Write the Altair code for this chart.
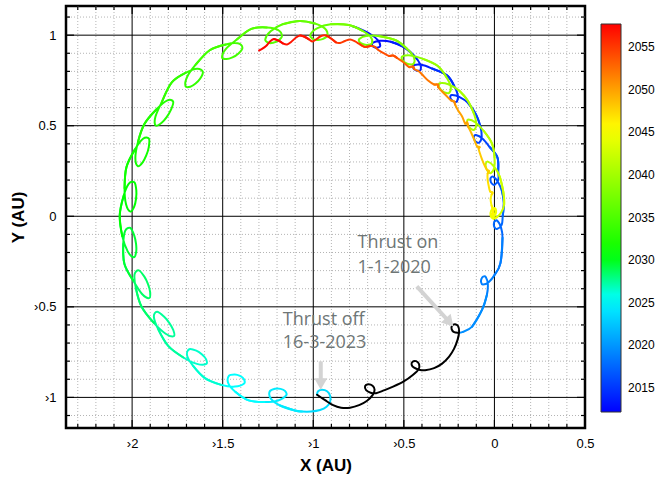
import altair as alt
import pandas as pd

# ---------------------------------------------------------------------------
# Trajectory in the rotating frame (AU).  Each inner list is one yearly loop,
# coloured by the matching entry of the *_years list.
# ---------------------------------------------------------------------------
blue_arcs = [
    [(-0.7802, 1.0481), (-0.7496, 1.0375), (-0.6858, 1.0065), (-0.6435, 0.9731), (-0.6302, 0.9409),
     (-0.6451, 0.9312), (-0.6615, 0.9333), (-0.6741, 0.9422), (-0.6725, 0.9569), (-0.6321, 0.9688),
     (-0.5721, 0.9635)],
    [(-0.4977, 0.9326), (-0.4438, 0.8863), (-0.4114, 0.8432), (-0.4068, 0.8088), (-0.4236, 0.8032),
     (-0.4390, 0.8093), (-0.4489, 0.8212), (-0.4437, 0.8351), (-0.4015, 0.8361), (-0.3448, 0.8157)],
    [(-0.2620, 0.7778), (-0.2221, 0.7191), (-0.2021, 0.6690), (-0.2066, 0.6345), (-0.2243, 0.6335),
     (-0.2375, 0.6435), (-0.2440, 0.6575), (-0.2353, 0.6695), (-0.1943, 0.6596), (-0.1449, 0.6252)],
    [(-0.1006, 0.5597), (-0.0769, 0.4927), (-0.0702, 0.4392), (-0.0833, 0.4070), (-0.1007, 0.4106),
     (-0.1110, 0.4236), (-0.1137, 0.4387), (-0.1023, 0.4482), (-0.0651, 0.4282), (-0.0261, 0.3823)],
    [(0.0164, 0.3255), (0.0211, 0.2545), (0.0216, 0.2019), (0.0009, 0.1738), (-0.0150, 0.1815),
     (-0.0218, 0.1967), (-0.0207, 0.2120), (-0.0074, 0.2184), (0.0198, 0.1895), (0.0425, 0.1350)],
    [(0.0520, 0.0730), (0.0460, 0.0030), (0.0402, -0.0476), (0.0136, -0.0700), (-0.0002, -0.0587),
     (-0.0032, -0.0424), (0.0016, -0.0277), (0.0161, -0.0248), (0.0355, -0.0598), (0.0446, -0.1186)],
    [(0.0333, -0.2586), (0.0019, -0.3222), (-0.0319, -0.3642), (-0.0642, -0.3772), (-0.0737, -0.3623),
     (-0.0716, -0.3458), (-0.0625, -0.3334), (-0.0478, -0.3350), (-0.0363, -0.3756), (-0.0421, -0.4356)],
    [(-0.0680, -0.5155), (-0.1231, -0.6094), (-0.1784, -0.6398), (-0.1977, -0.6425)],
]
blue_years = [2012.8, 2013.75, 2014.75, 2015.75, 2016.7, 2017.6, 2018.8, 2019.6]

# Thrust phase, 1-1-2020 to 16-3-2023 (drawn in black)
thrust_x = [-0.1977, -0.2225, -0.2363, -0.2336, -0.2170, -0.2004, -0.1949, -0.2032, -0.2225, -0.2501,
            -0.2888, -0.3330, -0.3827, -0.4158, -0.4434, -0.4572, -0.4517, -0.4324, -0.4158, -0.4186,
            -0.4489, -0.4986, -0.5594, -0.6146, -0.6532, -0.6836, -0.7084, -0.7140, -0.6974, -0.6726,
            -0.6615, -0.6726, -0.7029, -0.7471, -0.7968, -0.8465, -0.8907, -0.9349, -0.9790]
thrust_y = [-0.6425, -0.6398, -0.6232, -0.6039, -0.5956, -0.6066, -0.6370, -0.6812, -0.7309, -0.7751,
            -0.8138, -0.8387, -0.8497, -0.8470, -0.8359, -0.8193, -0.8028, -0.8000, -0.8166, -0.8442,
            -0.8746, -0.9105, -0.9409, -0.9630, -0.9768, -0.9740, -0.9602, -0.9381, -0.9271, -0.9354,
            -0.9575, -0.9878, -1.0182, -1.0431, -1.0569, -1.0569, -1.0431, -1.0155, -0.9851]

# Coast after thrust-off, round the far side and back in towards the Earth
coast_arcs = [
    [(-0.9790, -0.9851), (-0.9735, -0.9657), (-0.9514, -0.9575), (-0.9238, -0.9657), (-0.9072, -0.9906),
     (-0.9072, -1.0238), (-0.9266, -1.0514), (-0.9625, -1.0696), (-1.0121, -1.0779), (-1.0618, -1.0779)],
    [(-1.1018, -1.0724), (-1.1834, -1.0447), (-1.2336, -1.0081), (-1.2405, -0.9675), (-1.2104, -0.9521),
     (-1.1807, -0.9530), (-1.1565, -0.9641), (-1.1488, -0.9878), (-1.1937, -1.0169), (-1.2697, -1.0255)],
    [(-1.3565, -1.0165), (-1.4290, -0.9700), (-1.4689, -0.9224), (-1.4659, -0.8814), (-1.4330, -0.8737),
     (-1.4044, -0.8817), (-1.3835, -0.8982), (-1.3817, -0.9232), (-1.4323, -0.9405), (-1.5082, -0.9307)],
    [(-1.5984, -0.8933), (-1.6643, -0.8252), (-1.6967, -0.7680), (-1.6842, -0.7342), (-1.6457, -0.7421),
     (-1.6139, -0.7629), (-1.5922, -0.7883), (-1.5906, -0.8153), (-1.6423, -0.8151), (-1.7169, -0.7797)],
    [(-1.7996, -0.7173), (-1.8555, -0.6243), (-1.8800, -0.5551), (-1.8627, -0.5277), (-1.8245, -0.5537),
     (-1.7942, -0.5896), (-1.7728, -0.6281), (-1.7694, -0.6619), (-1.8150, -0.6485), (-1.8801, -0.5889)],
    [(-1.9485, -0.4981), (-1.9798, -0.3941), (-1.9866, -0.3212), (-1.9631, -0.2988), (-1.9324, -0.3333),
     (-1.9118, -0.3757), (-1.9006, -0.4181), (-1.9056, -0.4518), (-1.9466, -0.4277), (-1.9949, -0.3538)],
    [(-2.0428, -0.2617), (-2.0489, -0.1533), (-2.0384, -0.0807), (-2.0102, -0.0645), (-1.9886, -0.1053),
     (-1.9785, -0.1513), (-1.9775, -0.1952), (-1.9903, -0.2268), (-2.0245, -0.1937), (-2.0542, -0.1105)],
    [(-2.0683, 0.0050), (-2.0472, 0.1115), (-2.0189, 0.1791), (-1.9877, 0.1879), (-1.9768, 0.1430),
     (-1.9785, 0.0960), (-1.9885, 0.0531), (-2.0087, 0.0258), (-2.0336, 0.0663), (-2.0417, 0.1542)],
    [(-2.0311, 0.2716), (-1.9840, 0.3694), (-1.9397, 0.4277), (-1.9073, 0.4284), (-1.9080, 0.3822),
     (-1.9214, 0.3371), (-1.9418, 0.2982), (-1.9682, 0.2767), (-1.9821, 0.3222), (-1.9679, 0.4093)],
    [(-1.9315, 0.5107), (-1.8621, 0.5941), (-1.8051, 0.6401), (-1.7734, 0.6329), (-1.7853, 0.5883),
     (-1.8092, 0.5477), (-1.8384, 0.5149), (-1.8693, 0.5004), (-1.8718, 0.5479), (-1.8369, 0.6290)],
    [(-1.7810, 0.7390), (-1.7028, 0.7927), (-1.6410, 0.8149), (-1.6097, 0.7970), (-1.6240, 0.7603),
     (-1.6498, 0.7326), (-1.6786, 0.7153), (-1.7053, 0.7183), (-1.6965, 0.7692), (-1.6491, 0.8369)],
    [(-1.5716, 0.9166), (-1.4824, 0.9489), (-1.4169, 0.9548), (-1.3912, 0.9297), (-1.4142, 0.8977),
     (-1.4462, 0.8773), (-1.4783, 0.8680), (-1.5035, 0.8775), (-1.4821, 0.9246), (-1.4192, 0.9782)],
    [(-1.3420, 1.0350), (-1.2562, 1.0426), (-1.1955, 1.0293), (-1.1729, 0.9950), (-1.1942, 0.9688),
     (-1.2217, 0.9577), (-1.2483, 0.9580), (-1.2650, 0.9766), (-1.2355, 1.0213), (-1.1695, 1.0599)],
    [(-1.0763, 1.0784), (-0.9913, 1.0646), (-0.9358, 1.0367), (-0.9223, 0.9979), (-0.9494, 0.9777),
     (-0.9789, 0.9738), (-1.0045, 0.9806), (-1.0161, 1.0028), (-0.9766, 1.0388), (-0.9031, 1.0599)],
    [(-0.8040, 1.0562), (-0.7303, 1.0252), (-0.6836, 0.9902), (-0.6757, 0.9564), (-0.6991, 0.9464),
     (-0.7231, 0.9494), (-0.7424, 0.9601), (-0.7463, 0.9788), (-0.7026, 0.9963), (-0.6335, 0.9945)],
    [(-0.5447, 0.9719), (-0.4811, 0.9233), (-0.4447, 0.8776), (-0.4457, 0.8429), (-0.4708, 0.8392),
     (-0.4932, 0.8482), (-0.5092, 0.8634), (-0.5083, 0.8823), (-0.4616, 0.8882), (-0.3952, 0.8692)],
    [(-0.3144, 0.8308), (-0.2649, 0.7681), (-0.2410, 0.7147), (-0.2505, 0.6813), (-0.2758, 0.6840),
     (-0.2953, 0.6983), (-0.3070, 0.7170), (-0.3014, 0.7351), (-0.2547, 0.7292), (-0.1951, 0.6943)],
    [(-0.1459, 0.6366), (-0.1130, 0.5663), (-0.1002, 0.5101), (-0.1110, 0.4774), (-0.1310, 0.4838),
     (-0.1448, 0.5002), (-0.1511, 0.5193), (-0.1431, 0.5341), (-0.1045, 0.5178), (-0.0597, 0.4722)],
    [(-0.0133, 0.4017), (0.0008, 0.3253), (-0.0010, 0.2677), (-0.0195, 0.2387), (-0.0373, 0.2500),
     (-0.0465, 0.2692), (-0.0479, 0.2894), (-0.0364, 0.3017), (-0.0033, 0.2762), (0.0288, 0.2208)],
    [(0.0497, 0.1309), (0.0536, 0.0646), (0.0370, 0.0204), (0.0149, -0.0044)],
    [(-0.0072, -0.0127), (-0.0210, 0.0039), (-0.0182, 0.0315), (-0.0017, 0.0453), (0.0094, 0.0315),
     (0.0039, 0.0066), (-0.0127, -0.0017), (-0.0210, 0.0204), (-0.0099, 0.0398), (0.0039, 0.0343),
     (0.0011, 0.0122), (-0.0127, 0.0094)],
]
coast_years = [2023.6, 2024.5, 2025.5, 2026.5, 2027.5, 2028.5, 2029.5, 2030.5, 2031.5, 2032.5,
               2033.5, 2034.5, 2035.5, 2036.5, 2037.5, 2038.5, 2039.5, 2040.5, 2041.5, 2042.6, 2044.6]

# Return leg on the inner side, 2046-2058
return_arcs = [
    [(-0.0072, 0.0260), (-0.0155, 0.0591), (-0.0210, 0.0923), (-0.0155, 0.1199)],
    [(-0.0099, 0.1309), (-0.0237, 0.1365), (-0.0320, 0.1696), (-0.0375, 0.2028), (-0.0375, 0.2359)],
    [(-0.0293, 0.2497), (-0.0403, 0.2552), (-0.0514, 0.2746), (-0.0679, 0.3133), (-0.0817, 0.3519),
     (-0.0872, 0.3740)],
    [(-0.0817, 0.3823), (-0.0955, 0.3851), (-0.1121, 0.4238), (-0.1287, 0.4624), (-0.1452, 0.4956)],
    [(-0.1507, 0.5177), (-0.1618, 0.5122), (-0.1784, 0.5508), (-0.2004, 0.5840), (-0.2170, 0.6171)],
    [(-0.2225, 0.6337), (-0.2391, 0.6392), (-0.2667, 0.6669), (-0.2943, 0.6945), (-0.3109, 0.7138)],
    [(-0.3109, 0.7276), (-0.3330, 0.7276), (-0.3661, 0.7497), (-0.3937, 0.7773), (-0.4158, 0.7994),
     (-0.4434, 0.8133)],
    [(-0.4489, 0.8271), (-0.4710, 0.8243), (-0.5041, 0.8519), (-0.5373, 0.8740)],
    [(-0.5594, 0.8878), (-0.5815, 0.8851), (-0.6091, 0.8989), (-0.6367, 0.9155), (-0.6643, 0.9376),
     (-0.6864, 0.9403)],
    [(-0.7140, 0.9348), (-0.7416, 0.9486), (-0.7692, 0.9652), (-0.7968, 0.9762), (-0.8244, 0.9680),
     (-0.8520, 0.9569), (-0.8741, 0.9597)],
    [(-0.9017, 0.9818), (-0.9293, 0.9983), (-0.9570, 0.9956), (-0.9846, 0.9762), (-1.0039, 0.9652),
     (-1.0232, 0.9762)],
    [(-1.0508, 0.9928), (-1.0729, 0.9983), (-1.0950, 0.9873), (-1.1226, 0.9624), (-1.1447, 0.9486),
     (-1.1668, 0.9541)],
    [(-1.1889, 0.9680), (-1.2165, 0.9790), (-1.2386, 0.9652), (-1.2606, 0.9403), (-1.2827, 0.9238),
     (-1.2993, 0.9155)],
]
return_years = [2046.0, 2047.0, 2048.0, 2049.0, 2050.0, 2051.0, 2052.0, 2053.0, 2054.0, 2055.0,
                2056.0, 2056.8, 2057.5]

# Axis furniture
x_major = [-2, -1.5, -1, -0.5, 0]
y_major = [-1, -0.5, 0, 0.5, 1]
x_minor = [-2.3, -2.2, -2.1, -1.9, -1.8, -1.7, -1.6, -1.4, -1.3, -1.2, -1.1, -0.9, -0.8, -0.7, -0.6,
           -0.4, -0.3, -0.2, -0.1, 0.1, 0.2, 0.3, 0.4]
y_minor = [-1.1, -0.9, -0.8, -0.7, -0.6, -0.4, -0.3, -0.2, -0.1, 0.1, 0.2, 0.3, 0.4, 0.6, 0.7, 0.8,
           0.9, 1.1]
x_labels = [-2, -1.5, -1, -0.5, 0, 0.5]
y_labels = [-1, -0.5, 0, 0.5, 1]
bar_labels = [2015, 2020, 2025, 2030, 2035, 2040, 2045, 2050, 2055]

# Colour map for the date
year_stops = [2012.2, 2025.5, 2030.5, 2045.5, 2057.7]
year_colors = ["#0000ff", "#00ffff", "#00ff00", "#ffff00", "#ff0000"]

# Annotations
note_x = [-0.756, -0.756, -1.1684, -1.1684]
note_y = [-0.1746, -0.3127, -0.5983, -0.7270]
note_text = ["Thrust on", "1-1-2020", "Thrust off", "16-3-2023"]
arrow_x = [-0.4285, -0.9586]
arrow_y = [-0.3867, -0.8011]
arrow_x2 = [-0.2623, -0.9586]
arrow_y2 = [-0.5685, -0.9039]
head_x = [-0.2474, -0.9586]
head_y = [-0.5851, -0.9260]
head_angle = [137.6, 180]


def arcs_to_rows(name, arcs, years):
    """One line per loop; neighbouring points are repeated so the joins stay smooth."""
    rows = []
    for k, (arc, yr) in enumerate(zip(arcs, years)):
        pts = []
        if k > 0:
            pts.append(arcs[k - 1][-1])
        pts += list(arc)
        if k + 1 < len(arcs):
            pts += list(arcs[k + 1][:2])
        for i, (x, y) in enumerate(pts):
            rows.append({"x": x, "y": y, "seg": f"{name}{k:02d}", "i": i, "year": yr})
    return rows


traj = pd.DataFrame(
    arcs_to_rows("a", blue_arcs, blue_years)
    + arcs_to_rows("b", coast_arcs + return_arcs, coast_years + return_years)
)
thrust = pd.DataFrame({"x": thrust_x, "y": thrust_y, "i": range(len(thrust_x))})

W, H = 519, 422
xscale = alt.Scale(domain=[-2.365, 0.5], nice=False, zero=False)
yscale = alt.Scale(domain=[-1.169, 1.161], nice=False, zero=False)
minus_expr = "datum.value < 0 ? '\u203a' + format(-datum.value, '') : format(datum.value, '')"
xaxis = alt.Axis(values=x_labels, ticks=False, domain=False, grid=False, labelFlush=False,
                 labelExpr=minus_expr, labelFont="Liberation Sans", labelFontSize=13,
                 labelColor="black", labelPadding=9, title="X (AU)", titleFont="Liberation Sans",
                 titleFontSize=17, titleFontWeight="bold", titleColor="black", titleY=37,
                 titleBaseline="middle")
yaxis = alt.Axis(values=y_labels, ticks=False, domain=False, grid=False, labelFlush=False,
                 labelExpr=minus_expr, labelFont="Liberation Sans", labelFontSize=13,
                 labelColor="black", labelPadding=10, title="Y (AU)", titleFont="Liberation Sans",
                 titleFontSize=17, titleFontWeight="bold", titleColor="black", titleX=-48,
                 titleY=211, titleAngle=270, titleBaseline="middle")


def X(field="x"):
    return alt.X(f"{field}:Q", scale=xscale, axis=xaxis)


def Y(field="y"):
    return alt.Y(f"{field}:Q", scale=yscale, axis=yaxis)


vx_minor = pd.DataFrame({"x": x_minor})
vy_minor = pd.DataFrame({"y": y_minor})
vx_major = pd.DataFrame({"x": x_major})
vy_major = pd.DataFrame({"y": y_major})

grid_minor_x = alt.Chart(vx_minor).mark_rule(color="#b4b4b4", strokeDash=[1, 2], strokeWidth=1).encode(x=X())
grid_minor_y = alt.Chart(vy_minor).mark_rule(color="#b4b4b4", strokeDash=[1, 2], strokeWidth=1).encode(y=Y())
grid_major_x = alt.Chart(vx_major).mark_rule(color="black", strokeWidth=1).encode(x=X())
grid_major_y = alt.Chart(vy_major).mark_rule(color="black", strokeWidth=1).encode(y=Y())


def ticks(df_x, df_y, length):
    return [
        alt.Chart(df_x).mark_rule(color="black", strokeWidth=1.2).encode(
            x=X(), y=alt.value(H), y2=alt.value(H - length)),
        alt.Chart(df_x).mark_rule(color="black", strokeWidth=1.2).encode(
            x=X(), y=alt.value(0), y2=alt.value(length)),
        alt.Chart(df_y).mark_rule(color="black", strokeWidth=1.2).encode(
            y=Y(), x=alt.value(0), x2=alt.value(length)),
        alt.Chart(df_y).mark_rule(color="black", strokeWidth=1.2).encode(
            y=Y(), x=alt.value(W), x2=alt.value(W - length)),
    ]


color = alt.Color(
    "year:Q",
    scale=alt.Scale(domain=year_stops, range=year_colors, interpolate="rgb"),
    legend=alt.Legend(orient="none", legendX=535, legendY=18, direction="vertical",
                      gradientLength=388, gradientThickness=20, title=None, values=bar_labels,
                      format="d", labelFont="Liberation Sans", labelFontSize=12,
                      labelColor="black", labelOffset=7, gradientStrokeColor="#333333",
                      gradientStrokeWidth=1),
)

traj_layer = alt.Chart(traj).mark_line(
    interpolate="cardinal", tension=0, strokeWidth=2, strokeCap="round", clip=True
).encode(x=X(), y=Y(), detail="seg:N", order="i:Q", color=color)

thrust_layer = alt.Chart(thrust).mark_line(
    interpolate="cardinal", tension=0, strokeWidth=2, strokeCap="round", color="black", clip=True
).encode(x=X(), y=Y(), order="i:Q")

arrows = pd.DataFrame({"x": arrow_x, "y": arrow_y, "x2": arrow_x2, "y2": arrow_y2})
heads = pd.DataFrame({"x": head_x, "y": head_y, "a": head_angle})
notes = pd.DataFrame({"x": note_x, "y": note_y, "t": note_text})

arrow_layer = alt.Chart(arrows).mark_rule(color="#d3d3d3", strokeWidth=4).encode(
    x=X(), y=Y(), x2="x2:Q", y2="y2:Q")
head_layer = alt.Chart(heads).mark_point(
    shape="triangle-up", filled=True, color="#d3d3d3", size=170, opacity=1
).encode(x=X(), y=Y(), angle=alt.Angle("a:Q", scale=None))
note_layer = alt.Chart(notes).mark_text(
    align="left", baseline="alphabetic", font="Open Sans", fontSize=18, color="#6e7676"
).encode(x=X(), y=Y(), text="t:N")

chart = alt.layer(
    grid_minor_x, grid_minor_y, grid_major_x, grid_major_y,
    *ticks(vx_major, vy_major, 8), *ticks(vx_minor, vy_minor, 4),
    traj_layer, thrust_layer, arrow_layer, head_layer, note_layer,
).properties(
    width=W, height=H, autosize="none",
    padding={"left": 66, "top": 6, "right": 71, "bottom": 50},
    background="white",
).configure_view(stroke="black", strokeWidth=2.5)

chart.save("out.html", embed_options={"renderer": "svg", "actions": False})
